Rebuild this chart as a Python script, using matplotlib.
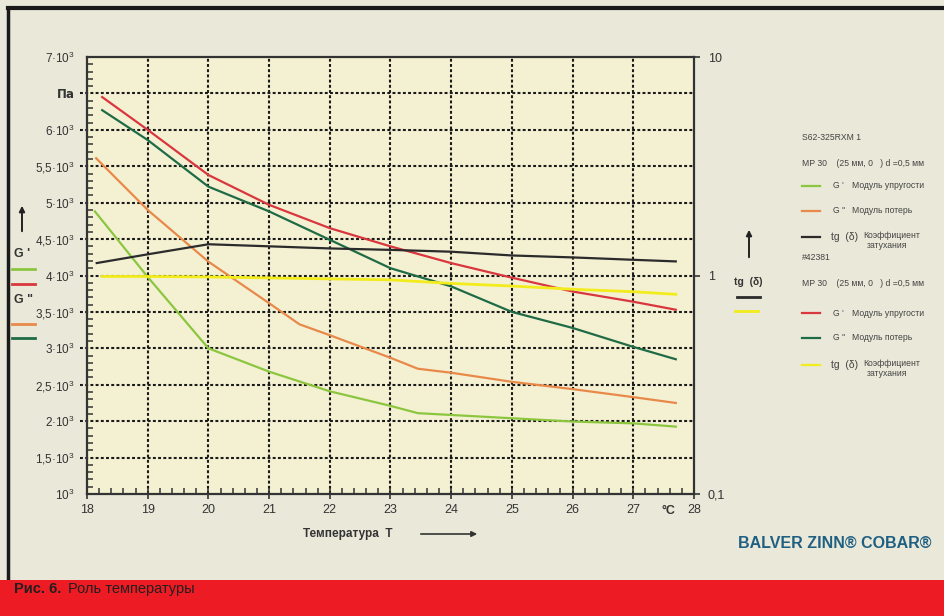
import numpy as np
import matplotlib.pyplot as plt
import matplotlib.patches as mpatches
from matplotlib.ticker import FixedLocator, MultipleLocator

plt.rcParams['font.family'] = ['Liberation Sans', 'DejaVu Sans']
plt.rcParams['mathtext.fontset'] = 'custom'
plt.rcParams['mathtext.rm'] = 'Liberation Sans'

# -------------------------------
# Data
# -------------------------------
# G' (S62-325RXM 1), light green, Pa
t_g1_s62 = [18.13, 19, 20, 21, 22, 23, 23.45, 24, 25, 26, 27, 27.7]
g1_s62 = [4880, 3980, 3000, 2680, 2410, 2210, 2110, 2085, 2040, 1995, 1970, 1925]

# G" (S62-325RXM 1), orange, Pa
t_g2_s62 = [18.15, 19, 20, 21, 21.5, 22, 23, 23.45, 24, 25, 26, 27, 27.7]
g2_s62 = [5610, 4900, 4190, 3620, 3330, 3180, 2870, 2720, 2665, 2540, 2440, 2330, 2250]

# tg(delta) (S62-325RXM 1), black
t_tg_s62 = [18.16, 19, 20, 21, 22, 23, 24, 25, 26, 27, 27.7]
tg_s62 = [1.14, 1.25, 1.39, 1.36, 1.33, 1.31, 1.285, 1.235, 1.21, 1.18, 1.16]

# G' (#42381), red, Pa
t_g1_42381 = [18.25, 19, 20, 21, 22, 23, 24, 25, 26, 27, 27.7]
g1_42381 = [6450, 6000, 5380, 4970, 4650, 4400, 4170, 3970, 3780, 3640, 3530]

# G" (#42381), dark green, Pa
t_g2_42381 = [18.25, 19, 20, 21, 22, 23, 24, 25, 26, 27, 27.7]
g2_42381 = [6270, 5860, 5220, 4880, 4490, 4100, 3850, 3500, 3280, 3020, 2850]

# tg(delta) (#42381), yellow
t_tg_42381 = [18.25, 19, 20, 21, 22, 23, 24, 25, 26, 27, 27.7]
tg_42381 = [0.99, 0.99, 0.985, 0.975, 0.965, 0.955, 0.92, 0.895, 0.865, 0.843, 0.82]

x_ticks = [18, 19, 20, 21, 22, 23, 24, 25, 26, 27, 28]
y_ticks = [1000, 1500, 2000, 2500, 3000, 3500, 4000, 4500, 5000, 5500, 6000, 6500, 7000]
y_labels = ['10$^3$', '1,5·10$^3$', '2·10$^3$', '2,5·10$^3$', '3·10$^3$', '3,5·10$^3$',
            '4·10$^3$', '4,5·10$^3$', '5·10$^3$', '5,5·10$^3$', '6·10$^3$', r'$\bf{Па}$', '7·10$^3$']
tg_ticks = [0.1, 1, 10]
tg_labels = ['0,1', '1', '10']

c_lgreen = '#8cc63f'
c_orange = '#e8894a'
c_black = '#2b2b2b'
c_red = '#d9363e'
c_dgreen = '#1f6b45'
c_yellow = '#f2ec1c'
txt = '#333333'

# -------------------------------
# Figure
# -------------------------------
fig = plt.figure(figsize=(9.45, 6.16), dpi=100)
fig.patch.set_facecolor('#e9e8d9')

ax = fig.add_axes([87 / 945, 1 - 494 / 616, 607 / 945, 437 / 616])
ax.set_facecolor('#f4f1d2')
ax.set_xlim(18, 28)
ax.set_ylim(1000, 7000)

# dotted grid
grid_kw = dict(color='#1a1a1a', lw=1.5, linestyle=(0, (1.4, 1.1)), zorder=1)
ax.vlines(x_ticks[1:-1], 0, 1, transform=ax.get_xaxis_transform(), **grid_kw)
ax.hlines(y_ticks[1:-1], -0.012, 1, transform=ax.get_yaxis_transform(), clip_on=False, **grid_kw)

lw = 1.6
ax.plot(t_g1_s62, g1_s62, color=c_lgreen, lw=lw, zorder=3)
ax.plot(t_g2_s62, g2_s62, color=c_orange, lw=lw, zorder=3)
ax.plot(t_g1_42381, g1_42381, color=c_red, lw=lw, zorder=3)
ax.plot(t_g2_42381, g2_42381, color=c_dgreen, lw=lw, zorder=3)

ax.set_xticks(x_ticks)
ax.set_xticklabels([str(v) for v in x_ticks])
ax.xaxis.set_minor_locator(MultipleLocator(0.2))
ax.set_yticks(y_ticks)
ax.set_yticklabels(y_labels)
ax.yaxis.set_minor_locator(MultipleLocator(100))
ax.tick_params(axis='x', which='major', direction='inout', length=7, width=1.2,
               labelsize=9, colors=txt, pad=4)
ax.tick_params(axis='x', which='minor', direction='in', length=4, width=1.1, color=txt)
ax.tick_params(axis='y', which='major', direction='in', length=0, labelsize=8.5,
               colors=txt, pad=9)
ax.tick_params(axis='y', which='minor', direction='in', length=4, width=1.1, color=txt)
for s in ax.spines.values():
    s.set_color('#333333')
    s.set_linewidth(1.6)

ax2 = ax.twinx()
ax2.set_yscale('log')
ax2.set_ylim(0.1, 10)
ax2.plot(t_tg_s62, tg_s62, color=c_black, lw=lw, zorder=3)
ax2.plot(t_tg_42381, tg_42381, color=c_yellow, lw=lw + 0.4, zorder=3)
ax2.yaxis.set_major_locator(FixedLocator(tg_ticks))
ax2.set_yticklabels(tg_labels)
ax2.yaxis.set_minor_locator(FixedLocator([]))
ax2.tick_params(axis='y', direction='out', length=4, width=1.2, labelsize=9,
                colors=txt, pad=6)
for s in ax2.spines.values():
    s.set_visible(False)

# axis captions
fig.text(668 / 945, 1 - 511 / 616, '°C', fontsize=9, fontweight='bold', color=txt,
         ha='center', va='center')
fig.text(348 / 945, 1 - 534 / 616, 'Температура  T', fontsize=8.5, fontweight='bold',
         color=txt, ha='center', va='center')
fig.add_artist(mpatches.FancyArrowPatch((418 / 945, 1 - 534 / 616), (480 / 945, 1 - 534 / 616),
                                        transform=fig.transFigure, arrowstyle='-|>',
                                        mutation_scale=8, color=txt, lw=1.2))

# left side key
fig.add_artist(mpatches.FancyArrowPatch((22 / 945, 1 - 234 / 616), (22 / 945, 1 - 203 / 616),
                                        transform=fig.transFigure, arrowstyle='-|>',
                                        mutation_scale=8, color='#222222', lw=1.4))
fig.text(14 / 945, 1 - 254 / 616, "G '", fontsize=9, fontweight='bold', color=txt, va='center')
fig.text(14 / 945, 1 - 300 / 616, 'G "', fontsize=9, fontweight='bold', color=txt, va='center')
for yy, cc in [(269, c_lgreen), (284, c_red), (324, c_orange), (338, c_dgreen)]:
    fig.add_artist(plt.Line2D([12 / 945, 35 / 945], [1 - yy / 616] * 2, color=cc, lw=2,
                              transform=fig.transFigure))

# right side key for tg(delta)
fig.add_artist(mpatches.FancyArrowPatch((749 / 945, 1 - 260 / 616), (749 / 945, 1 - 227 / 616),
                                        transform=fig.transFigure, arrowstyle='-|>',
                                        mutation_scale=8, color='#222222', lw=1.4))
fig.text(748 / 945, 1 - 282 / 616, 'tg  (δ)', fontsize=7.5, fontweight='bold', color=txt,
         ha='center', va='center')
fig.add_artist(plt.Line2D([737 / 945, 760 / 945], [1 - 297 / 616] * 2, color=c_black, lw=2,
                          transform=fig.transFigure))
fig.add_artist(plt.Line2D([735 / 945, 758 / 945], [1 - 311 / 616] * 2, color=c_yellow, lw=2,
                          transform=fig.transFigure))

# legend panel
lt = dict(fontsize=6.2, color='#444444', va='center')
x0 = 802 / 945
fig.text(x0, 1 - 138 / 616, 'S62-325RXM 1', **lt)
blocks = [
    (163, [(186, c_lgreen, "G '", ['Модуль упругости']),
           (211, c_orange, 'G "', ['Модуль потерь']),
           (237, c_black, 'tg  (δ)', ['Коэффициент', 'затухания'])]),
    (283, [(313, c_red, "G '", ['Модуль упругости']),
           (338, c_dgreen, 'G "', ['Модуль потерь']),
           (365, c_yellow, 'tg  (δ)', ['Коэффициент', 'затухания'])]),
]
for k, (ymp, rows) in enumerate(blocks):
    if k == 1:
        fig.text(x0, 1 - 258 / 616, '#42381', **lt)
    fig.text(x0, 1 - ymp / 616, 'MP 30    (25 мм, 0   ) d =0,5 мм', **lt)
    for yy, cc, sym, desc in rows:
        fig.add_artist(plt.Line2D([802 / 945, 820 / 945], [1 - yy / 616] * 2, color=cc, lw=1.6,
                                  transform=fig.transFigure))
        if sym.startswith('tg'):
            fig.text(831 / 945, 1 - yy / 616, sym, fontsize=7.5, color='#444444', va='center')
            fig.text(863 / 945, 1 - (yy - 2) / 616, desc[0], **lt)
            fig.text(867 / 945, 1 - (yy + 9) / 616, desc[1], **lt)
        else:
            fig.text(833 / 945, 1 - yy / 616, sym, **lt)
            fig.text(852 / 945, 1 - yy / 616, desc[0], **lt)

# brand
fig.text(835 / 945, 1 - 543 / 616, 'BALVER ZINN® COBAR®', fontsize=11.5, fontweight='bold',
         color='#1f5f82', ha='center', va='center')

# frame
fig.add_artist(plt.Line2D([8 / 945, 1], [1 - 8 / 616] * 2, color='#1a1a1a', lw=3,
                          transform=fig.transFigure))
fig.add_artist(plt.Line2D([8 / 945] * 2, [0, 1 - 8 / 616], color='#1a1a1a', lw=2.5,
                          transform=fig.transFigure))

# red caption band
fig.add_artist(mpatches.Rectangle((0, 0), 1, 36 / 616, transform=fig.transFigure,
                                  facecolor='#ed1c24', edgecolor='none', zorder=5))
fig.text(14 / 945, 1 - 589 / 616, 'Рис. 6.', fontsize=10.5, fontweight='bold', color='#231f20',
         va='center', zorder=6)
fig.text(68 / 945, 1 - 589 / 616, 'Роль температуры', fontsize=10.5, color='#231f20',
         va='center', zorder=6)

fig.savefig('out.png', dpi=100, facecolor=fig.get_facecolor())
